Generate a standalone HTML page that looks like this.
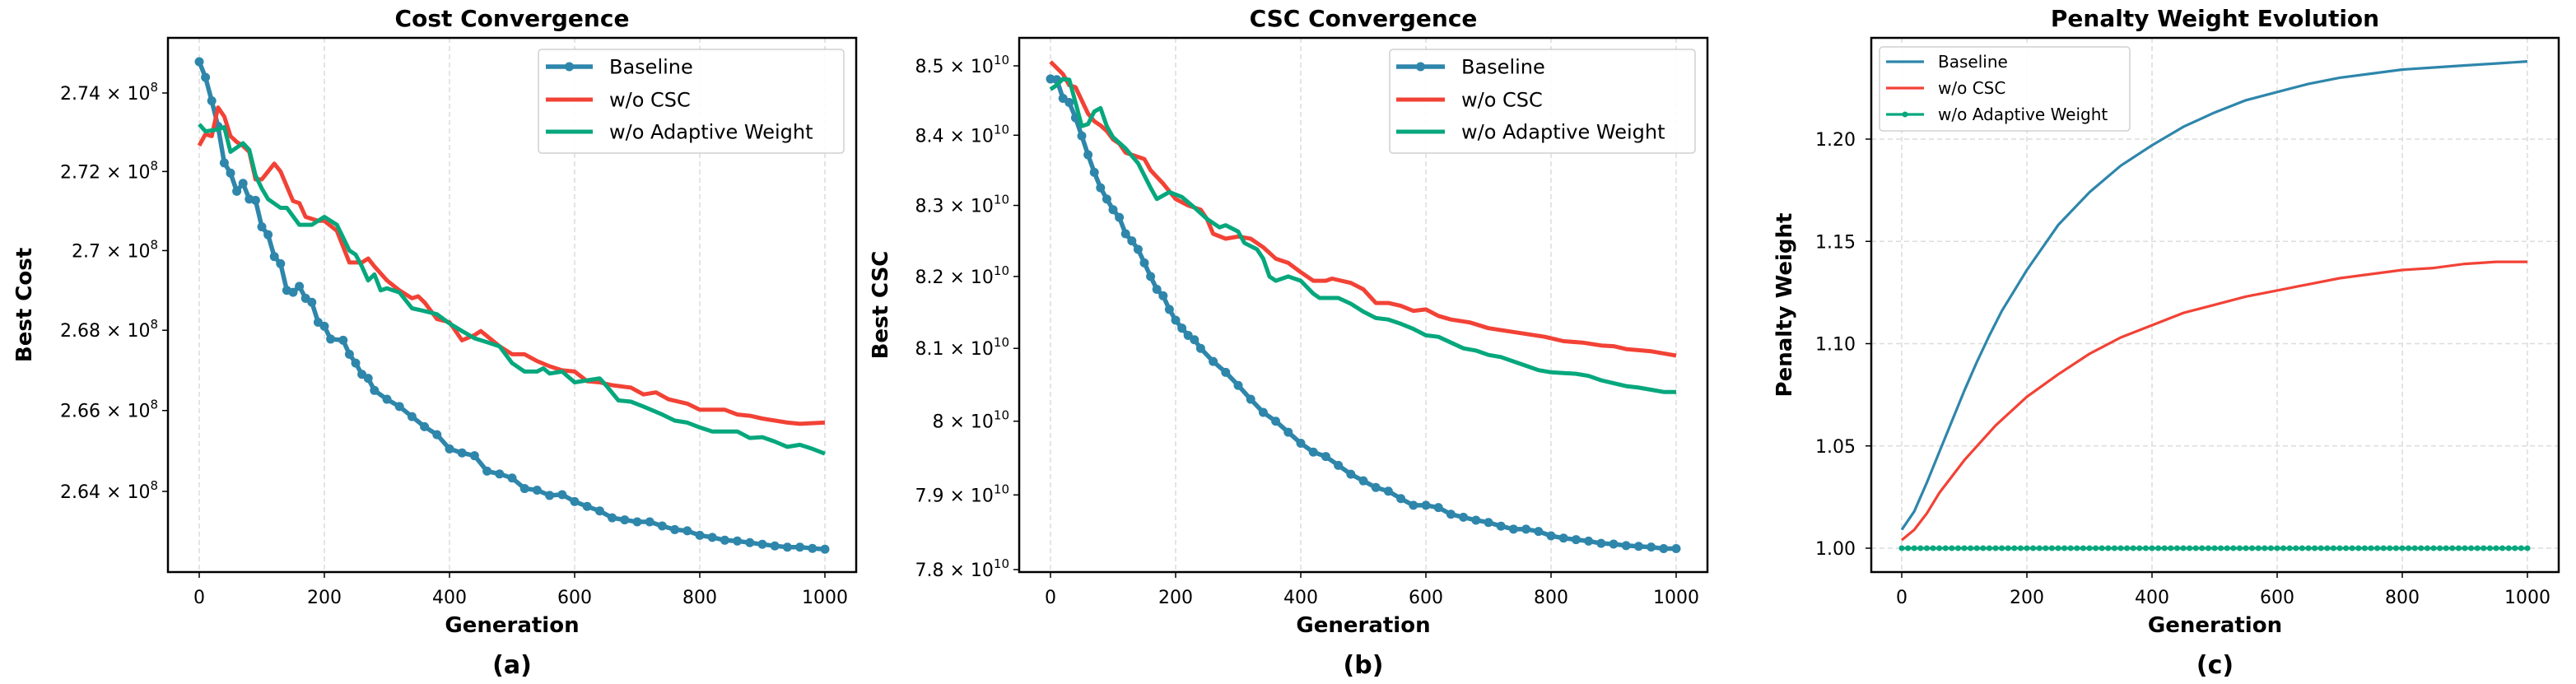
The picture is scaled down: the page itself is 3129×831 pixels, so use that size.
<!DOCTYPE html>
<html><head><meta charset="utf-8">
<style>
html,body{margin:0;padding:0;background:#fff;}
svg{display:block;font-family:"DejaVu Sans","Liberation Sans",sans-serif;}
</style></head>
<body>
<svg id="fig" width="3129" height="831" viewBox="0 0 3129 831" xmlns="http://www.w3.org/2000/svg"></svg>
<script>
// ---------- Data ----------
const genA_base=[0,10,20,30,40,50,60,70,80,90,100,110,120,130,140,150,160,170,180,190,200,210,230,240,250,260,270,280,300,320,340,360,380,400,420,440,460,480,500,520,540,560,580,600,620,640,660,680,700,720,740,760,780,800,820,840,860,880,900,920,940,960,980,1000];
const costBase=[2.748,2.744,2.738,2.7315,2.7222,2.7196,2.715,2.717,2.713,2.7127,2.706,2.704,2.6985,2.6967,2.690,2.6895,2.691,2.688,2.687,2.682,2.681,2.6778,2.6775,2.674,2.6718,2.669,2.668,2.665,2.6628,2.661,2.6585,2.656,2.654,2.6505,2.6495,2.6488,2.645,2.6443,2.6433,2.6407,2.6403,2.639,2.6392,2.6375,2.6363,2.6352,2.6335,2.633,2.6325,2.6325,2.6315,2.6306,2.6303,2.6292,2.6287,2.628,2.6278,2.6274,2.627,2.6266,2.6263,2.6263,2.626,2.6258];
const genA_csc=[0,10,20,30,40,50,60,70,80,90,100,120,130,150,160,170,190,200,220,240,260,270,280,300,320,340,350,360,380,400,420,440,450,480,500,520,540,560,580,600,620,640,660,690,710,730,750,780,800,840,860,880,900,940,960,1000];
const costNoCSC=[2.7266,2.7295,2.729,2.7363,2.734,2.729,2.7275,2.7265,2.725,2.718,2.718,2.722,2.720,2.7125,2.712,2.7085,2.7075,2.7075,2.705,2.697,2.697,2.698,2.696,2.6925,2.690,2.688,2.6885,2.687,2.6828,2.682,2.6775,2.6788,2.6798,2.676,2.674,2.674,2.6723,2.671,2.670,2.6697,2.6673,2.667,2.6663,2.6657,2.664,2.6645,2.6628,2.6617,2.6602,2.6602,2.659,2.6587,2.658,2.657,2.6567,2.657];
const genA_aw=[0,10,30,40,50,70,80,90,100,110,130,140,160,180,200,220,240,250,260,270,280,290,300,320,340,360,380,400,420,440,460,480,500,520,540,550,560,580,600,620,640,650,670,690,710,740,760,780,800,820,840,860,880,900,920,940,960,980,1000];
const costNoAW=[2.732,2.7302,2.7307,2.7313,2.725,2.7272,2.7255,2.719,2.7157,2.713,2.7108,2.7108,2.7065,2.7065,2.7085,2.7065,2.7,2.699,2.696,2.6925,2.694,2.690,2.6905,2.6895,2.6855,2.6848,2.684,2.6817,2.6798,2.678,2.677,2.676,2.6718,2.6697,2.6697,2.6705,2.6692,2.6697,2.667,2.6675,2.668,2.6663,2.6625,2.6622,2.661,2.659,2.6575,2.657,2.6558,2.6548,2.6548,2.6548,2.6532,2.6534,2.6523,2.651,2.6515,2.6505,2.6493];

const genB_base=[0,10,20,30,40,50,60,70,80,90,100,110,120,130,140,150,160,170,180,190,200,210,220,230,240,260,280,300,320,340,360,380,400,420,440,460,480,500,520,540,560,580,600,620,640,660,680,700,720,740,760,780,800,820,840,860,880,900,920,940,960,980,1000];
const cscBase=[8.481,8.48,8.453,8.447,8.425,8.399,8.372,8.347,8.325,8.309,8.294,8.283,8.26,8.25,8.238,8.219,8.20,8.182,8.173,8.154,8.139,8.128,8.118,8.112,8.1,8.082,8.067,8.049,8.03,8.012,8.0,7.985,7.97,7.958,7.952,7.94,7.928,7.919,7.91,7.905,7.895,7.886,7.886,7.883,7.874,7.87,7.866,7.863,7.858,7.854,7.854,7.851,7.845,7.842,7.84,7.838,7.835,7.834,7.832,7.831,7.83,7.828,7.828];
const genB_csc=[0,10,20,30,40,50,60,70,80,90,100,110,120,140,150,160,180,200,220,240,250,260,280,300,320,340,360,380,400,420,440,450,480,500,520,540,560,580,600,620,640,670,700,730,760,790,820,850,880,900,920,960,1000];
const cscNoCSC=[8.506,8.497,8.488,8.472,8.469,8.45,8.431,8.42,8.414,8.406,8.394,8.388,8.375,8.369,8.366,8.35,8.331,8.309,8.30,8.294,8.281,8.26,8.253,8.256,8.253,8.241,8.225,8.219,8.206,8.194,8.194,8.197,8.191,8.182,8.163,8.163,8.159,8.152,8.154,8.145,8.14,8.136,8.128,8.124,8.12,8.116,8.11,8.108,8.104,8.103,8.099,8.096,8.09];
const genB_aw=[0,10,20,30,40,50,60,70,80,90,100,120,140,160,170,190,210,230,250,270,280,300,310,330,340,350,360,380,400,420,430,460,480,500,520,540,560,580,600,620,640,660,680,700,720,740,760,780,800,820,840,860,880,900,920,940,960,980,1000];
const cscNoAW=[8.466,8.472,8.481,8.48,8.447,8.413,8.416,8.434,8.439,8.413,8.397,8.381,8.36,8.325,8.309,8.319,8.312,8.297,8.281,8.269,8.272,8.263,8.247,8.238,8.225,8.20,8.194,8.20,8.194,8.176,8.17,8.17,8.162,8.151,8.142,8.14,8.134,8.127,8.118,8.116,8.108,8.10,8.097,8.091,8.088,8.082,8.076,8.07,8.067,8.066,8.065,8.062,8.056,8.052,8.048,8.046,8.043,8.04,8.04];

const genC_base=[0,20,40,60,80,100,120,140,160,180,200,250,300,350,400,450,500,550,600,650,700,750,800,850,900,950,1000];
const wBase=[1.009,1.018,1.032,1.047,1.062,1.077,1.091,1.104,1.116,1.126,1.136,1.158,1.174,1.187,1.197,1.206,1.213,1.219,1.223,1.227,1.230,1.232,1.234,1.235,1.236,1.237,1.238];
const genC_csc=[0,20,40,60,80,100,150,200,250,300,350,400,450,500,550,600,650,700,750,800,850,900,950,1000];
const wNoCSC=[1.004,1.009,1.017,1.027,1.035,1.043,1.060,1.074,1.085,1.095,1.103,1.109,1.115,1.119,1.123,1.126,1.129,1.132,1.134,1.136,1.137,1.139,1.140,1.140];
const genC_aw=[0,10,20,30,40,50,60,70,80,90,100,110,120,130,140,150,160,170,180,190,200,210,220,230,240,250,260,270,280,290,300,310,320,330,340,350,360,370,380,390,400,410,420,430,440,450,460,470,480,490,500,510,520,530,540,550,560,570,580,590,600,610,620,630,640,650,660,670,680,690,700,710,720,730,740,750,760,770,780,790,800,810,820,830,840,850,860,870,880,890,900,910,920,930,940,950,960,970,980,990,1000];
const wNoAW=genC_aw.map(()=>1.0);

const xTicks=[0,200,400,600,800,1000];
const yTicksA=[2.74,2.72,2.70,2.68,2.66,2.64];
const yTickLabelsA=["2.74","2.72","2.7","2.68","2.66","2.64"];
const yTicksB=[8.5,8.4,8.3,8.2,8.1,8.0,7.9,7.8];
const yTickLabelsB=["8.5","8.4","8.3","8.2","8.1","8","7.9","7.8"];
const yTicksC=[1.00,1.05,1.10,1.15,1.20];
const yTickLabelsC=["1.00","1.05","1.10","1.15","1.20"];

const BLUE="#2E86AB", RED="#F24236", GREEN="#06A77D";
const NS="http://www.w3.org/2000/svg";
const svg=document.getElementById('fig');
function mk(tag,attrs,parent){const e=document.createElementNS(NS,tag);for(const k in attrs)e.setAttribute(k,attrs[k]);(parent||svg).appendChild(e);return e;}

function panel(cfg){
  const g=mk('g',{});
  
  
  const {L,R,T,B,x0px,x1px}=cfg;
  const xs=v=>x0px+(v/1000)*(x1px-x0px);
  const ys=cfg.ys;
  xTicks.forEach(t=>{const l=mk('line',{x1:xs(t),x2:xs(t),y1:T,y2:B,stroke:'#dcdcdc','stroke-width':1.5,'stroke-dasharray':'6,4'},g);
    });
  if(cfg.hgrid) cfg.yTicks.forEach(t=>{const l=mk('line',{x1:L,x2:R,y1:ys(t),y2:ys(t),stroke:'#dcdcdc','stroke-width':1.5,'stroke-dasharray':'6,4'},g);
    });
  cfg.series.forEach(s=>{
    const d=s.x.map((v,i)=>(i?'L':'M')+xs(v).toFixed(1)+','+ys(s.y[i]).toFixed(1)).join('');
    const p=mk('path',{d,fill:'none',stroke:s.color,'stroke-width':s.w,'stroke-linejoin':'round'},g);
    
    
    if(s.marker){s.x.forEach((v,i)=>{const c=mk('circle',{cx:xs(v),cy:ys(s.y[i]),r:s.marker,fill:s.color},g);
      
      });}
  });
  const box=mk('rect',{x:L,y:T,width:R-L,height:B-T,fill:'none',stroke:'#000','stroke-width':2.5},g);
  
  xTicks.forEach(t=>{mk('line',{x1:xs(t),x2:xs(t),y1:B,y2:B+7,stroke:'#000','stroke-width':1.5},g);
    const tx=mk('text',{x:xs(t),y:B+38,'font-size':22,'text-anchor':'middle'},g);tx.textContent=t;
    });
  cfg.yTicks.forEach((t,i)=>{const y=ys(t);mk('line',{x1:L-7,x2:L,y1:y,y2:y,stroke:'#000','stroke-width':1.5},g);
    const tx=mk('text',{x:cfg.labR,y:y+8,'font-size':22,'text-anchor':'end'},g);
    
    if(cfg.exp){tx.textContent=cfg.yLabels[i]+' \u00d7 10';const sp=mk('tspan',{'font-size':15,dy:-10},tx);sp.textContent=cfg.exp;}
    else tx.textContent=cfg.yLabels[i];});
  const cx=(L+R)/2;
  let t=mk('text',{x:cx,y:32,'font-size':28,'font-weight':'bold','text-anchor':'middle'},g);t.textContent=cfg.title;
  
  t=mk('text',{x:cx,y:768,'font-size':26,'font-weight':'bold','text-anchor':'middle'},g);t.textContent='Generation';
  
  t=mk('text',{x:cx,y:818,'font-size':30,'font-weight':'bold','text-anchor':'middle'},g);t.textContent=cfg.sub;
  
  const ym=(T+B)/2;
  t=mk('text',{x:cfg.ylx,y:ym,'font-size':26,'font-weight':'bold','text-anchor':'middle',transform:`rotate(-90 ${cfg.ylx} ${ym})`},g);t.textContent=cfg.ylabel;
  
  const lg=cfg.legend;
  const lgG=mk('g',{},g);
  
  mk('rect',{x:lg.x,y:lg.y,width:lg.w,height:lg.h,rx:4,fill:'#fff','fill-opacity':0.85,stroke:'#d0d0d0','stroke-width':1.5},lgG);
  cfg.series.forEach((s,i)=>{const y=lg.ey[i];
    const e=mk('g',{},lgG);
    
    mk('line',{x1:lg.hx1,x2:lg.hx2,y1:y,y2:y,stroke:s.color,'stroke-width':s.w},e);
    if(s.marker) mk('circle',{cx:(lg.hx1+lg.hx2)/2,cy:y,r:s.marker,fill:s.color},e);
    const tx=mk('text',{x:lg.tx,y:y+lg.fs*0.36,'font-size':lg.fs},e);tx.textContent=s.label;});
}

const logScale=(v0,p0,v1,p1)=>v=>p0+(Math.log(v)-Math.log(v0))/(Math.log(v1)-Math.log(v0))*(p1-p0);
const linScale=(v0,p0,v1,p1)=>v=>p0+(v-v0)/(v1-v0)*(p1-p0);

panel({name:'cost-convergence-panel',L:204,R:1040,T:46,B:695,x0px:242,x1px:1002,
  ys:logScale(2.74,113,2.64,597),yTicks:yTicksA,yLabels:yTickLabelsA,exp:'8',labR:192,
  title:'Cost Convergence',sub:'(a)',ylabel:'Best Cost',ylx:38,hgrid:false,
  series:[{name:'baseline',label:'Baseline',x:genA_base,y:costBase,color:BLUE,w:5.5,marker:5.5},
          {name:'wo-csc',label:'w/o CSC',x:genA_csc,y:costNoCSC,color:RED,w:5},
          {name:'wo-adaptive-weight',label:'w/o Adaptive Weight',x:genA_aw,y:costNoAW,color:GREEN,w:5}],
  legend:{x:654,y:60,w:371,h:126,ey:[81,121,160],hx1:663,hx2:720,tx:740,fs:24}});

panel({name:'csc-convergence-panel',L:1238,R:2074,T:46,B:695,x0px:1276,x1px:2036,
  ys:logScale(8.5,80,7.8,692),yTicks:yTicksB,yLabels:yTickLabelsB,exp:'10',labR:1226,
  title:'CSC Convergence',sub:'(b)',ylabel:'Best CSC',ylx:1078,hgrid:false,
  series:[{name:'baseline',label:'Baseline',x:genB_base,y:cscBase,color:BLUE,w:5.5,marker:5.5},
          {name:'wo-csc',label:'w/o CSC',x:genB_csc,y:cscNoCSC,color:RED,w:5},
          {name:'wo-adaptive-weight',label:'w/o Adaptive Weight',x:genB_aw,y:cscNoAW,color:GREEN,w:5}],
  legend:{x:1688,y:60,w:371,h:126,ey:[81,121,160],hx1:1696,hx2:1755,tx:1775,fs:24}});

panel({name:'penalty-weight-panel',L:2273,R:3108,T:46,B:695,x0px:2310,x1px:3070,
  ys:linScale(1.00,666,1.20,169),yTicks:yTicksC,yLabels:yTickLabelsC,exp:null,labR:2254,
  title:'Penalty Weight Evolution',sub:'(c)',ylabel:'Penalty Weight',ylx:2176,hgrid:true,
  series:[{name:'baseline',label:'Baseline',x:genC_base,y:wBase,color:BLUE,w:3.2},
          {name:'wo-csc',label:'w/o CSC',x:genC_csc,y:wNoCSC,color:RED,w:3.2},
          {name:'wo-adaptive-weight',label:'w/o Adaptive Weight',x:genC_aw,y:wNoAW,color:GREEN,w:3.2,marker:3.5}],
  legend:{x:2283,y:57,w:304,h:102,ey:[75,107,139],hx1:2291,hx2:2337,tx:2354,fs:20}});
</script>
</body></html>
